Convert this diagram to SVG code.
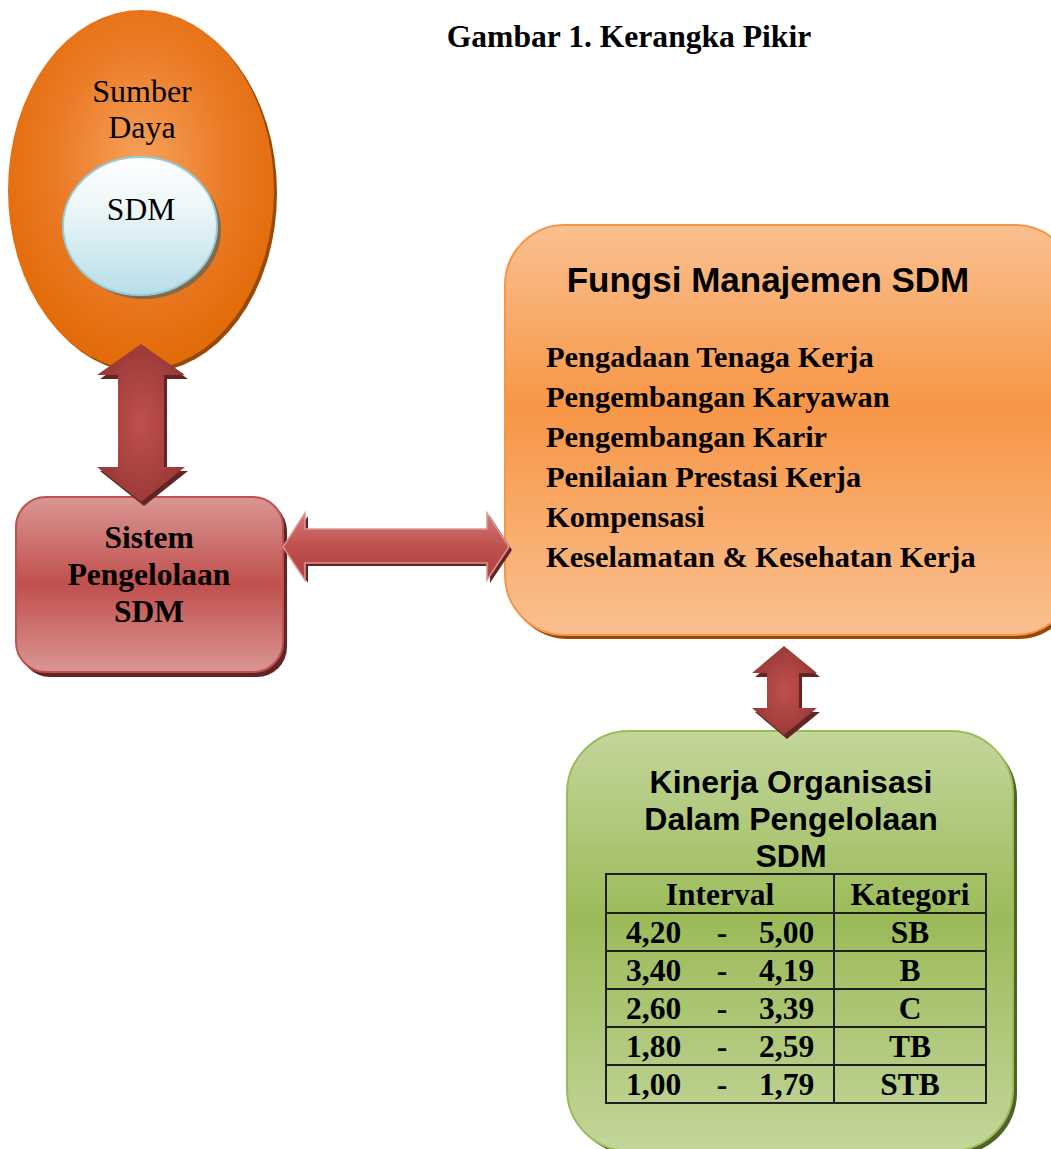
<svg xmlns="http://www.w3.org/2000/svg" width="1051" height="1149" viewBox="0 0 1051 1149">
<defs>
<radialGradient id="gOrange" cx="0.5" cy="0.42" r="0.55">
<stop offset="0" stop-color="#f7a15a"/>
<stop offset="0.6" stop-color="#ea7a25"/>
<stop offset="1" stop-color="#e36c0a"/>
</radialGradient>
<linearGradient id="gBlue" x1="0" y1="0" x2="0" y2="1">
<stop offset="0" stop-color="#ffffff"/>
<stop offset="0.35" stop-color="#eef7f9"/>
<stop offset="1" stop-color="#b7dde8"/>
</linearGradient>
<linearGradient id="gRed" x1="0" y1="0" x2="0" y2="1">
<stop offset="0" stop-color="#d99694"/>
<stop offset="0.5" stop-color="#c0504d"/>
<stop offset="1" stop-color="#d99694"/>
</linearGradient>
<linearGradient id="gPeach" x1="0" y1="0" x2="0" y2="1">
<stop offset="0" stop-color="#fac090"/>
<stop offset="0.45" stop-color="#f79646"/>
<stop offset="1" stop-color="#fac090"/>
</linearGradient>
<linearGradient id="gGreen" x1="0" y1="0" x2="0" y2="1">
<stop offset="0" stop-color="#c3d69b"/>
<stop offset="0.45" stop-color="#9bbb59"/>
<stop offset="1" stop-color="#c3d69b"/>
</linearGradient>
<radialGradient id="gArrowV" cx="0.5" cy="0.5" r="0.6">
<stop offset="0" stop-color="#c0504d"/>
<stop offset="1" stop-color="#943634"/>
</radialGradient>
<linearGradient id="gArrowH" x1="0" y1="0" x2="0" y2="1">
<stop offset="0" stop-color="#d07a77"/>
<stop offset="0.5" stop-color="#c0504d"/>
<stop offset="1" stop-color="#b0413e"/>
</linearGradient>
</defs>
<style>
.serif{font-family:"Liberation Serif","Times New Roman",serif;}
.sans{font-family:"Liberation Sans",Arial,sans-serif;font-weight:bold;}
.b{font-weight:bold;}
.tbl{fill:none;stroke:#1f1f1f;stroke-width:2;}
</style>

<text class="serif b" x="629" y="47" font-size="31.6" text-anchor="middle">Gambar 1. Kerangka Pikir</text>

<g id="node-sumber-daya">
<ellipse cx="144" cy="193" rx="133" ry="180" fill="#984807"/>
<ellipse cx="141" cy="190" rx="133" ry="180" fill="url(#gOrange)"/>
<text class="serif" x="142" y="102" font-size="32" text-anchor="middle">Sumber</text>
<text class="serif" x="142" y="138" font-size="32" text-anchor="middle">Daya</text>
</g>

<g id="node-sdm">
<ellipse cx="144" cy="230" rx="77" ry="69" fill="#86694a"/>
<ellipse cx="140" cy="226" rx="77" ry="69" fill="url(#gBlue)" stroke="#93cddd" stroke-width="2"/>
<text class="serif" x="141" y="220" font-size="31.5" text-anchor="middle">SDM</text>
</g>

<g id="node-sistem">
<rect x="20" y="501" width="267" height="176" rx="30" fill="#632523"/>
<rect x="16" y="497" width="267" height="175" rx="30" fill="url(#gRed)" stroke="#c0504d" stroke-width="2"/>
<text class="serif b" x="149" y="548" font-size="31.5" text-anchor="middle">Sistem</text>
<text class="serif b" x="149" y="585" font-size="31.5" text-anchor="middle">Pengelolaan</text>
<text class="serif b" x="149" y="622" font-size="31.5" text-anchor="middle">SDM</text>
</g>

<g id="node-fungsi">
<rect x="508" y="229" width="570" height="410" rx="60" fill="#984807"/>
<rect x="505" y="225" width="570" height="410" rx="60" fill="url(#gPeach)" stroke="#f79646" stroke-width="2"/>
<text class="sans" x="768" y="292" font-size="35" text-anchor="middle">Fungsi Manajemen SDM</text>
<g class="serif b" font-size="30.4">
<text x="546" y="367">Pengadaan Tenaga Kerja</text>
<text x="546" y="407">Pengembangan Karyawan</text>
<text x="546" y="447">Pengembangan Karir</text>
<text x="546" y="487">Penilaian Prestasi Kerja</text>
<text x="546" y="527">Kompensasi</text>
<text x="546" y="567">Keselamatan &amp; Kesehatan Kerja</text>
</g>
</g>

<g id="node-kinerja">
<rect x="571" y="735" width="446" height="420" rx="62" fill="#4f6228"/>
<rect x="567" y="731" width="446" height="420" rx="62" fill="url(#gGreen)" stroke="#9bbb59" stroke-width="2"/>
<text class="sans" x="791" y="793" font-size="32" text-anchor="middle">Kinerja Organisasi</text>
<text class="sans" x="791" y="830" font-size="32" text-anchor="middle">Dalam Pengelolaan</text>
<text class="sans" x="791" y="867" font-size="32" text-anchor="middle">SDM</text>
<rect class="tbl" x="606" y="874" width="380" height="229"/>
<path class="tbl" d="M834,874 V1103 M606,913 H986 M606,951 H986 M606,989 H986 M606,1027 H986 M606,1065 H986"/>
<g class="serif b" font-size="31.5">
<text x="720" y="905" text-anchor="middle">Interval</text>
<text x="910" y="905" text-anchor="middle">Kategori</text>
<text x="626" y="943">4,20</text><text x="722" y="943" text-anchor="middle">-</text><text x="759" y="943">5,00</text><text x="910" y="943" text-anchor="middle">SB</text>
<text x="626" y="981">3,40</text><text x="722" y="981" text-anchor="middle">-</text><text x="759" y="981">4,19</text><text x="910" y="981" text-anchor="middle">B</text>
<text x="626" y="1019">2,60</text><text x="722" y="1019" text-anchor="middle">-</text><text x="759" y="1019">3,39</text><text x="910" y="1019" text-anchor="middle">C</text>
<text x="626" y="1057">1,80</text><text x="722" y="1057" text-anchor="middle">-</text><text x="759" y="1057">2,59</text><text x="910" y="1057" text-anchor="middle">TB</text>
<text x="626" y="1095">1,00</text><text x="722" y="1095" text-anchor="middle">-</text><text x="759" y="1095">1,79</text><text x="910" y="1095" text-anchor="middle">STB</text>
</g>
</g>

<g id="connectors">
<g id="arrow-sumber-sistem">
<path d="M144,348 L188,379 L167,379 L167,471 L188,471 L144,506 L100,471 L121,471 L121,379 L100,379 Z" fill="#632523"/>
<path d="M141,344 L185,375 L164,375 L164,467 L185,467 L141,502 L97,467 L118,467 L118,375 L97,375 Z" fill="url(#gArrowV)"/>
</g>
<g id="arrow-sistem-fungsi">
<path d="M286,550 L308,516 L308,532 L490,532 L490,516 L512,550 L490,583 L490,566 L308,566 L308,583 Z" fill="#632523"/>
<path d="M283,547 L305,513 L305,529 L487,529 L487,513 L509,547 L487,580 L487,563 L305,563 L305,580 Z" fill="url(#gArrowH)" stroke="#d99694" stroke-width="1.5"/>
</g>
<g id="arrow-fungsi-kinerja">
<path d="M787,650 L820,677 L802,677 L802,712 L820,712 L787,739 L755,712 L770,712 L770,677 L755,677 Z" fill="#632523"/>
<path d="M784,646 L817,673 L799,673 L799,708 L817,708 L784,735 L752,708 L767,708 L767,673 L752,673 Z" fill="url(#gArrowV)"/>
</g>
</g>
</svg>
